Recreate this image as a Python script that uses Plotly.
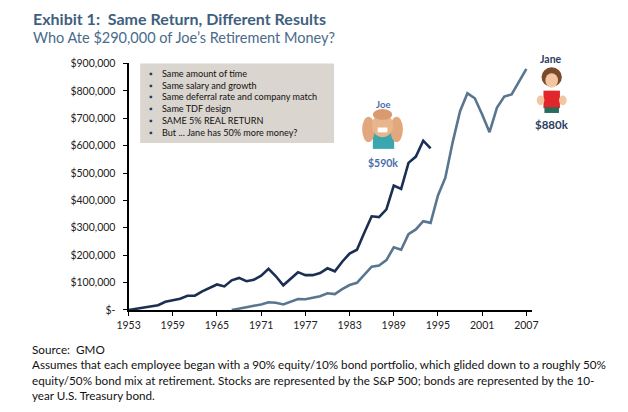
import plotly.graph_objects as go

# Joe retires in 1994, Jane in 2007 - same 40-ish year career
years_joe = list(range(1953, 1995))
joe = [0, 4000, 9000, 14000, 17000, 30000, 36000, 41000, 52000, 52000,
       68000, 82000, 93000, 86000, 108000, 117000, 105000, 110000, 125000, 150000,
       123000, 90000, 115000, 138000, 127000, 127000, 135000, 152000, 141000, 176000,
       206000, 220000, 282000, 342000, 339000, 367000, 454000, 442000, 537000, 560000,
       618000, 590000]

years_jane = list(range(1967, 2008))
jane = [0, 6000, 10000, 15000, 20000, 28000, 26000, 20000, 30000, 40000,
        39000, 44000, 50000, 61000, 58000, 76000, 91000, 99000, 129000, 158000,
        162000, 182000, 229000, 220000, 277000, 294000, 324000, 318000, 418000, 483000,
        613000, 726000, 791000, 773000, 714000, 649000, 738000, 779000, 787000, 832000,
        880000]

x_ticks = [1953, 1959, 1965, 1971, 1977, 1983, 1989, 1995, 2001, 2007]
y_ticks = [0, 100000, 200000, 300000, 400000, 500000, 600000, 700000, 800000, 900000]
y_labels = ["$-", "$100,000", "$200,000", "$300,000", "$400,000", "$500,000",
            "$600,000", "$700,000", "$800,000", "$900,000"]

bullets = ["Same amount of time", "Same salary and growth",
           "Same deferral rate and company match", "Same TDF design",
           "SAME 5% REAL RETURN", "But ... Jane has 50% more money?"]

footer_lines = [
    "Assumes that each employee began with a 90% equity/10% bond portfolio, which glided down to a roughly 50%",
    "equity/50% bond mix at retirement. Stocks are represented by the S&P 500; bonds are represented by the 10-",
    "year U.S. Treasury bond.",
]

# page body has an 8px margin, so the figure is drawn 8px in from the window corner
OFF = 8
W, H = 628 - OFF, 412 - OFF
FONT = "Lato"


def px(x):
    return (x - OFF) / W


def py(y):
    return 1 - (y - OFF) / H


fig = go.Figure()
fig.add_trace(go.Scatter(x=years_joe, y=joe, mode="lines", name="Joe",
                         line=dict(color="#1b2f52", width=2.6)))
fig.add_trace(go.Scatter(x=years_jane, y=jane, mode="lines", name="Jane",
                         line=dict(color="#58768f", width=2.6)))

fig.update_layout(
    width=W, height=H,
    margin=dict(l=0, r=0, t=0, b=0),
    paper_bgcolor="white", plot_bgcolor="white",
    showlegend=False,
    font=dict(family=FONT, color="#222222"),
    xaxis=dict(domain=[px(120), px(536)], range=[1953, 2007.74],
               showline=True, linecolor="black", linewidth=2,
               ticks="outside", ticklen=4, tickcolor="black",
               tickvals=x_ticks, tickfont=dict(size=10.5, color="#222"),
               showgrid=False, zeroline=False),
    yaxis=dict(domain=[py(313), py(59)], range=[0, 900000],
               showline=True, linecolor="black", linewidth=2,
               ticks="outside", ticklen=4, tickcolor="black",
               tickvals=y_ticks, ticktext=y_labels, tickfont=dict(size=10.5, color="#222"),
               ticklabelstandoff=5,
               showgrid=False, zeroline=False),
)

shapes = []
# grey text box
shapes.append(dict(type="rect", x0=px(132), x1=px(332), y0=py(141), y1=py(59),
                   fillcolor="#dad5cf", line=dict(width=0), layer="below"))

# crude Joe cartoon (hands on head, teal shirt)
shapes += [
    dict(type="rect", x0=px(372), x1=px(394), y0=py(147), y1=py(130), fillcolor="#3aa6ad",
         line=dict(width=0)),
    dict(type="circle", x0=px(361), x1=px(374), y0=py(140), y1=py(114), fillcolor="#e2a77c",
         line=dict(width=0)),
    dict(type="circle", x0=px(390), x1=px(403), y0=py(140), y1=py(114), fillcolor="#e2a77c",
         line=dict(width=0)),
    dict(type="circle", x0=px(371), x1=px(393), y0=py(135), y1=py(111), fillcolor="#e9b58c",
         line=dict(width=0)),
    dict(type="circle", x0=px(372), x1=px(392), y0=py(117), y1=py(106), fillcolor="#d89a6e",
         line=dict(width=0)),
    dict(type="rect", x0=px(377), x1=px(387), y0=py(130), y1=py(125), fillcolor="white",
         line=dict(width=0)),
]
# crude Jane cartoon (brown hair, red top, green skirt)
shapes += [
    dict(type="circle", x0=px(546), x1=px(567), y0=py(83), y1=py(63), fillcolor="#7b4a28",
         line=dict(width=0)),
    dict(type="circle", x0=px(550), x1=px(563), y0=py(84), y1=py(69), fillcolor="#f2c6a2",
         line=dict(width=0)),
    dict(type="rect", x0=px(548), x1=px(565), y0=py(105), y1=py(87), fillcolor="#e3262b",
         line=dict(width=0)),
    dict(type="circle", x0=px(541), x1=px(549), y0=py(102), y1=py(92), fillcolor="#f2c6a2",
         line=dict(width=0)),
    dict(type="circle", x0=px(564), x1=px(572), y0=py(102), y1=py(92), fillcolor="#f2c6a2",
         line=dict(width=0)),
    dict(type="rect", x0=px(549), x1=px(564), y0=py(110), y1=py(104), fillcolor="#2b6b5a",
         line=dict(width=0)),
]
for s in shapes:
    s.setdefault("xref", "paper")
    s.setdefault("yref", "paper")
fig.update_layout(shapes=shapes)

ann = []
ann.append(dict(x=px(19), y=py(13), text="<b>Exhibit 1:  Same Return, Different Results</b>",
                font=dict(size=16, color="#3f5f7e")))
ann.append(dict(x=px(19), y=py(32), text="Who Ate $290,000 of Joe\u2019s Retirement Money?",
                font=dict(size=14.5, color="#4a6b8b")))

for i, b in enumerate(bullets):
    yy = 69 + i * 12.25
    ann.append(dict(x=px(139), y=py(yy), text="\u25aa", font=dict(size=9, color="#1f3864")))
    ann.append(dict(x=px(152), y=py(yy), text=b, font=dict(size=9.1, color="#111")))

ann.append(dict(x=px(382), y=py(101), text="<b>Joe</b>", xanchor="center",
                font=dict(size=9.5, color="#4a6ea8")))
ann.append(dict(x=px(382), y=py(162), text="<b>$590k</b>", xanchor="center",
                font=dict(size=10.5, color="#4a6ea8")))
ann.append(dict(x=px(556), y=py(54), text="<b>Jane</b>", xanchor="center",
                font=dict(size=10.5, color="#2c3d60")))
ann.append(dict(x=px(557), y=py(122), text="<b>$880k</b>", xanchor="center",
                font=dict(size=11.5, color="#2c3d60")))

ann.append(dict(x=px(18), y=py(353), text="Source:  GMO", font=dict(size=11.7, color="#111")))
for i, line in enumerate(footer_lines):
    ann.append(dict(x=px(18), y=py(369 + i * 16), text=line, font=dict(size=11.7, color="#111")))

for a in ann:
    a.setdefault("xref", "paper")
    a.setdefault("yref", "paper")
    a.setdefault("xanchor", "left")
    a.setdefault("yanchor", "middle")
    a.setdefault("showarrow", False)
fig.update_layout(annotations=ann)

fig.write_html("out.html")
